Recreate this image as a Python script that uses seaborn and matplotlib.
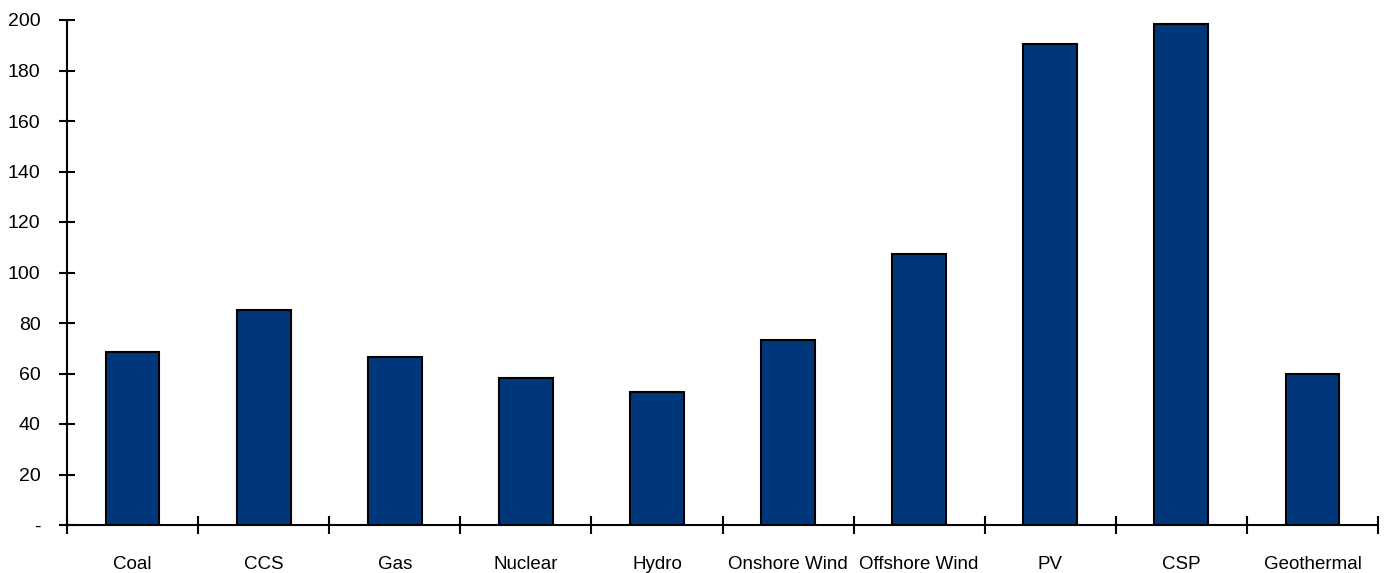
import numpy as np
import pandas as pd
import matplotlib
matplotlib.use('Agg')
import matplotlib.pyplot as plt
import seaborn as sns
from matplotlib.ticker import FixedLocator

categories = ['Coal', 'CCS', 'Gas', 'Nuclear', 'Hydro', 'Onshore Wind',
              'Offshore Wind', 'PV', 'CSP', 'Geothermal']
values = [68.5, 85.2, 66.5, 58.2, 52.7, 73.3, 107.3, 190.5, 198.4, 59.8]
y_ticks = [0, 20, 40, 60, 80, 100, 120, 140, 160, 180, 200]
y_labels = ['-'] + [str(v) for v in y_ticks[1:]]

sns.set_style('white')
plt.rcParams['font.family'] = ['Liberation Sans Narrow', 'Liberation Sans', 'DejaVu Sans']

df = pd.DataFrame({'tech': categories, 'cost': values})

fig = plt.figure(figsize=(13.85, 5.73), dpi=100)
ax = fig.add_axes([67 / 1385, 1 - 525 / 573, (1378 - 67) / 1385, (525 - 20) / 573])

sns.barplot(data=df, x='tech', y='cost', color='#00377A', saturation=1,
            edgecolor='black', linewidth=1.5, width=0.41, ax=ax)

ax.set_xlim(-0.5, 9.5)
ax.set_ylim(0, 200)
ax.set_xlabel('')
ax.set_ylabel('')

ax.set_yticks(y_ticks)
ax.set_yticklabels(y_labels, fontsize=14, color='black')
ax.tick_params(axis='y', direction='inout', length=12, width=1.5, pad=13,
               left=True, color='black')

# category boundary ticks on the x axis
ax.xaxis.set_minor_locator(FixedLocator(np.arange(-0.5, 10, 1)))
ax.tick_params(axis='x', which='minor', direction='inout', length=13, width=1.5,
               bottom=True, color='black')
ax.tick_params(axis='x', which='major', length=0, pad=22, labelsize=13.5,
               labelcolor='black')

for s in ['top', 'right']:
    ax.spines[s].set_visible(False)
for s in ['left', 'bottom']:
    ax.spines[s].set_linewidth(1.5)
    ax.spines[s].set_color('black')

fig.savefig('out.png', dpi=100)
